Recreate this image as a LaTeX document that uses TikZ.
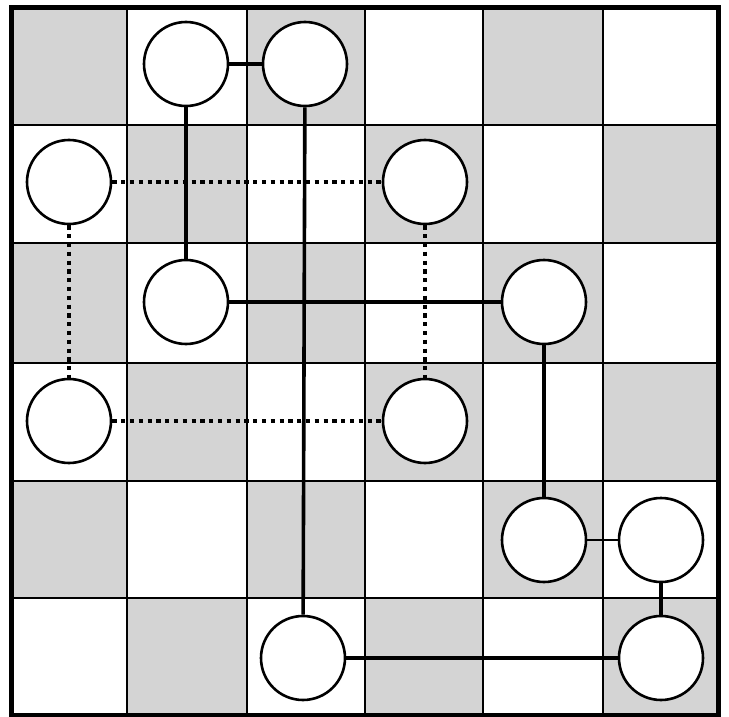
\documentclass[tikz,border=0pt]{standalone}
\definecolor{cellgray}{RGB}{212,212,212}
\tikzset{
  spot/.style={circle, draw=black, line width=2.6pt, fill=white, minimum size=84pt, inner sep=0pt},
  link/.style={draw=black, line width=3.6pt},
  thinlink/.style={draw=black, line width=2.4pt},
  dotlink/.style={draw=black, line width=4.4pt, dash pattern=on 4.2pt off 4.6pt},
  gridline/.style={draw=black, line width=2.4pt},
  border/.style={draw=black, line width=5pt}
}
\begin{document}
\begin{tikzpicture}[x=1pt, y=-1pt]
\useasboundingbox (0,0) rectangle (729,717);
\fill[white] (0,0) rectangle (729,717);
% cell boundaries
\def\xs{{11,127,247,365,483,603,718}}
\def\ys{{8,125,243,363,481,598,715}}
\foreach \r in {0,...,5}{
  \foreach \c in {0,...,5}{
    \pgfmathtruncatemacro{\parity}{mod(\r+\c,2)}
    \ifnum\parity=0
      \pgfmathsetmacro{\xa}{\xs[\c]}
      \pgfmathsetmacro{\xb}{\xs[\c+1]}
      \pgfmathsetmacro{\ya}{\ys[\r]}
      \pgfmathsetmacro{\yb}{\ys[\r+1]}
      \fill[cellgray] (\xa,\ya) rectangle (\xb,\yb);
    \fi
  }
}
\foreach \x in {127,247,365,483,603}{ \draw[gridline] (\x,8) -- (\x,715); }
\foreach \y in {125,243,363,481,598}{ \draw[gridline] (11,\y) -- (718,\y); }
\draw[border] (11,8) rectangle (718,715);
% nodes
\node[spot] (A) at (186,64) {};
\node[spot] (B) at (305,64) {};
\node[spot] (C) at (69,182) {};
\node[spot] (D) at (425,182) {};
\node[spot] (E) at (186,302) {};
\node[spot] (F) at (544,302) {};
\node[spot] (G) at (69,421) {};
\node[spot] (H) at (425,421) {};
\node[spot] (I) at (544,540) {};
\node[spot] (J) at (661,540) {};
\node[spot] (K) at (303,658) {};
\node[spot] (L) at (661,658) {};
% connectors
\draw[link] (A) -- (B);
\draw[link] (A) -- (E);
\draw[link] (B) -- (K);
\draw[link] (E) -- (F);
\draw[link] (F) -- (I);
\draw[thinlink] (I) -- (J);
\draw[link] (J) -- (L);
\draw[link] (K) -- (L);
\draw[dotlink] (C) -- (D);
\draw[dotlink] (C) -- (G);
\draw[dotlink] (G) -- (H);
\draw[dotlink] (D) -- (H);
\end{tikzpicture}
\end{document}
